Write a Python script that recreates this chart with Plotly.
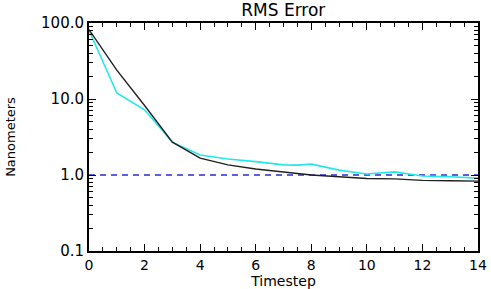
import plotly.graph_objects as go

# ── Data ─────────────────────────────────────────────────────────────────────
timestep = [0, 1, 2, 3, 4, 5, 6, 7, 8, 9, 10, 11, 12, 13, 14]
rms_black = [82, 24, 8.2, 2.7, 1.67, 1.36, 1.2, 1.1, 1.0, 0.95, 0.9, 0.89, 0.85, 0.84, 0.83]
cyan_t = [0, 1, 2, 3, 4, 5, 6, 7, 7.5, 8, 9, 10, 11, 12, 13, 14]
rms_cyan = [80, 12, 7.2, 2.7, 1.83, 1.62, 1.5, 1.36, 1.35, 1.39, 1.16, 1.03, 1.1, 0.97, 0.95, 0.91]
ref_level = [1.0, 1.0]
ref_t = [0, 14]

x_ticks = [0, 2, 4, 6, 8, 10, 12, 14]
y_ticks = [0.1, 1, 10, 100]
y_ticklabels = ["0.1", "1.0", "10.0", "100.0"]

FONT = "DejaVu Sans, Verdana, sans-serif"

fig = go.Figure()
fig.add_trace(go.Scatter(x=ref_t, y=ref_level, mode="lines",
                         line=dict(color="#2a2ad8", width=1.3, dash="6px,5px")))
fig.add_trace(go.Scatter(x=cyan_t, y=rms_cyan, mode="lines",
                         line=dict(color="#22e8e8", width=1.6)))
fig.add_trace(go.Scatter(x=timestep, y=rms_black, mode="lines",
                         line=dict(color="#202020", width=1.4)))

fig.update_layout(
    width=491, height=289,
    margin=dict(l=89, r=13, t=23, b=38),
    paper_bgcolor="white", plot_bgcolor="white",
    font=dict(family=FONT, size=13, color="black"),
    showlegend=False,
    title=dict(text="RMS Error", x=0.577, xanchor="center", y=0.965, yanchor="middle",
               automargin=False, font=dict(size=17)),
    xaxis=dict(
        range=[0, 14], tickvals=x_ticks, automargin=False,
        ticks="inside", ticklen=7, tickwidth=1.3, tickcolor="black",
        showline=True, linecolor="black", linewidth=2, mirror="ticks",
        showgrid=False, zeroline=False,
        minor=dict(ticks="inside", ticklen=4, dtick=0.5, tickcolor="black", showgrid=False),
        title=dict(text="Timestep", standoff=1, font=dict(size=14)),
        tickfont=dict(size=14), ticklabelstandoff=0,
    ),
    yaxis=dict(
        type="log", range=[-1, 2], automargin=False,
        tickvals=y_ticks, ticktext=y_ticklabels,
        ticks="inside", ticklen=7, tickwidth=1.3, tickcolor="black",
        showline=True, linecolor="black", linewidth=2, mirror="ticks",
        showgrid=False, zeroline=False,
        minor=dict(ticks="inside", ticklen=4, dtick="D1", tickcolor="black", showgrid=False),
        title=dict(text="Nanometers", standoff=22, font=dict(size=13)),
        tickfont=dict(size=15),
    ),
)

# the page body has an 8px default margin; drop it so the figure sits at 0,0
fig.write_html("out.html", config={"displayModeBar": False},
               post_script="document.body.style.margin='0';")
